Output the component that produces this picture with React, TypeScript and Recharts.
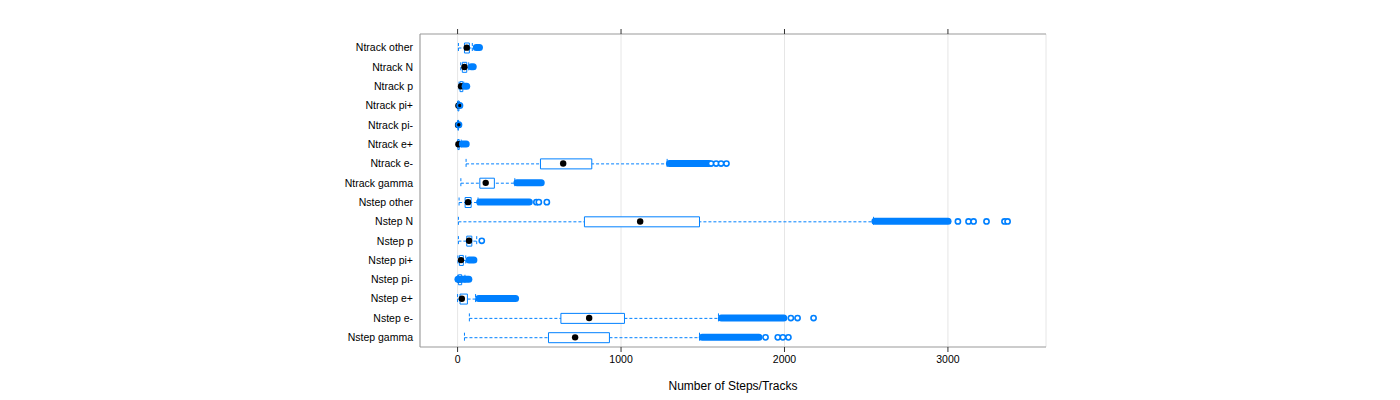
import { ComposedChart, Bar, Scatter, XAxis, YAxis, CartesianGrid } from 'recharts';

// one row per category, top to bottom
const CATEGORIES = [
  'Ntrack other', 'Ntrack N', 'Ntrack p', 'Ntrack pi+', 'Ntrack pi-', 'Ntrack e+', 'Ntrack e-', 'Ntrack gamma',
  'Nstep other', 'Nstep N', 'Nstep p', 'Nstep pi+', 'Nstep pi-', 'Nstep e+', 'Nstep e-', 'Nstep gamma',
];
const WHISKER_LO = [5, 19, 9, 0, 0, 0, 52, 20, 9, 5, 5, 2, 1, 0, 72, 42];
const Q1 = [42, 29, 15, 2, 2, 2, 507, 136, 46, 776, 56, 11, 5, 15, 632, 556];
const MEDIAN = [56, 42, 21, 5, 3, 5, 646, 172, 64, 1117, 70, 21, 10, 26, 805, 719];
const Q3 = [72, 56, 32, 8, 5, 10, 821, 225, 83, 1480, 87, 35, 25, 60, 1021, 929];
const WHISKER_HI = [90, 68, 38, 10, 6, 22, 1282, 350, 125, 2545, 117, 50, 45, 110, 1596, 1480];
// dense run of outliers (drawn as a solid band) and isolated outliers
const OUT_FROM = [113, 83, 45, 12, 6, 28, 1295, 362, 134, 2552, null, 69, 1, 128, 1613, 1496];
const OUT_TO = [135, 97, 57, 15, 9, 54, 1540, 513, 440, 3002, null, 101, 70, 356, 1997, 1845];
const OUT_SINGLE = [
  [], [], [], [], [], [], [1551, 1582, 1612, 1645], [],
  [482, 497, 546], [3061, 3126, 3157, 3236, 3346, 3365], [148], [], [], [], [2039, 2080, 2178], [1884, 1959, 1990, 2024],
];
const X_TICKS = [0, 1000, 2000, 3000];

const BLUE = '#0080ff';
const MAX_SINGLE = 6;

const rows = CATEGORIES.map((name, i) => {
  const row: Record<string, unknown> = {
    name,
    whisker: [WHISKER_LO[i], WHISKER_HI[i]],
    box: [Q1[i], Q3[i]],
    med: MEDIAN[i],
    blob: OUT_FROM[i] == null ? null : [OUT_FROM[i], OUT_TO[i]],
  };
  for (let k = 0; k < MAX_SINGLE; k++) row[`o${k}`] = OUT_SINGLE[i][k] ?? null;
  return row;
});

const Whisker = (props: any) => {
  const { x, y, width, height } = props;
  if (x == null || !isFinite(x)) return null;
  const cy = y + height / 2;
  return (
    <g stroke={BLUE} strokeWidth={1} strokeDasharray="3 2" fill="none">
      <line x1={x} x2={x + width} y1={cy} y2={cy} />
      <line x1={x} x2={x} y1={y} y2={y + height} />
      <line x1={x + width} x2={x + width} y1={y} y2={y + height} />
    </g>
  );
};

// many overlapping open circles merge into a solid band
const Blob = (props: any) => {
  const { x, y, width, height, payload } = props;
  if (!payload.blob || x == null || !isFinite(x)) return null;
  const r = 3.3;
  const x0 = x - r;
  const w = width + 2 * r;
  if (w < 8) {
    return (
      <rect x={x0 + 0.9} y={y + 0.9} width={w - 1.8} height={height - 1.8} rx={(height - 1.8) / 2}
        fill="none" stroke={BLUE} strokeWidth={1.8} />
    );
  }
  return <rect x={x0} y={y} width={w} height={height} rx={height / 2} fill={BLUE} />;
};

const MedianDot = (props: any) => {
  const { cx, cy } = props;
  if (cx == null || !isFinite(cx)) return null;
  return <circle cx={cx} cy={cy} r={3.2} fill="#000" />;
};

const Ring = (props: any) => {
  const { cx, cy } = props;
  if (cx == null || !isFinite(cx)) return null;
  return <circle cx={cx} cy={cy} r={2.6} fill="#fff" stroke={BLUE} strokeWidth={1.6} />;
};

export default function App() {
  const catAxis = { type: 'category' as const, dataKey: 'name', padding: { top: 4, bottom: 0 } };
  return (
    <div style={{ position: 'absolute', left: 0, top: 0, fontFamily: '"Liberation Sans", Arial, sans-serif', background: '#fff' }}>
      <ComposedChart
        width={1400}
        height={400}
        data={rows}
        layout="vertical"
        margin={{ top: 4, right: 354, bottom: 3, left: 0 }}
      >
        <CartesianGrid yAxisId="main" horizontal={false} stroke="#e6e6e6" />
        <XAxis
          type="number"
          domain={[-230, 3600]}
          ticks={X_TICKS}
          allowDataOverflow
          height={50}
          axisLine={{ stroke: '#999' }}
          tickLine={{ stroke: '#333' }}
          tickSize={5}
          tickMargin={4}
          tick={{ fontSize: 10.5, fill: '#000' }}
          label={{ value: 'Number of Steps/Tracks', position: 'insideBottom', offset: 7, fontSize: 12, fill: '#000' }}
        />
        <XAxis
          xAxisId="top"
          orientation="top"
          type="number"
          domain={[-230, 3600]}
          ticks={X_TICKS}
          allowDataOverflow
          height={30}
          axisLine={{ stroke: '#999' }}
          tickLine={{ stroke: '#333' }}
          tickSize={5}
          tickFormatter={() => ''}
        />
        <YAxis
          yAxisId="main"
          {...catAxis}
          width={420}
          axisLine={{ stroke: '#999' }}
          tickLine={false}
          tickSize={0}
          tickMargin={7}
          tick={{ fontSize: 10.5, fill: '#000' }}
        />
        <YAxis yAxisId="right" orientation="right" {...catAxis} width={0} axisLine={{ stroke: '#999' }} tick={false} tickLine={false} />
        <YAxis yAxisId="blob" {...catAxis} width={0} hide />

        <Bar yAxisId="main" dataKey="whisker" barSize={10} shape={Whisker} isAnimationActive={false} />
        <Bar yAxisId="right" dataKey="box" barSize={10} fill="#fff" stroke={BLUE} strokeWidth={1} isAnimationActive={false} />
        <Scatter yAxisId="main" dataKey="med" shape={MedianDot} isAnimationActive={false} />
        <Bar yAxisId="blob" dataKey="blob" barSize={7} shape={Blob} zIndex={650} isAnimationActive={false} />
        {Array.from({ length: MAX_SINGLE }, (_, k) => (
          <Scatter key={k} yAxisId="main" dataKey={`o${k}`} shape={Ring} zIndex={700} isAnimationActive={false} />
        ))}
      </ComposedChart>
    </div>
  );
}
